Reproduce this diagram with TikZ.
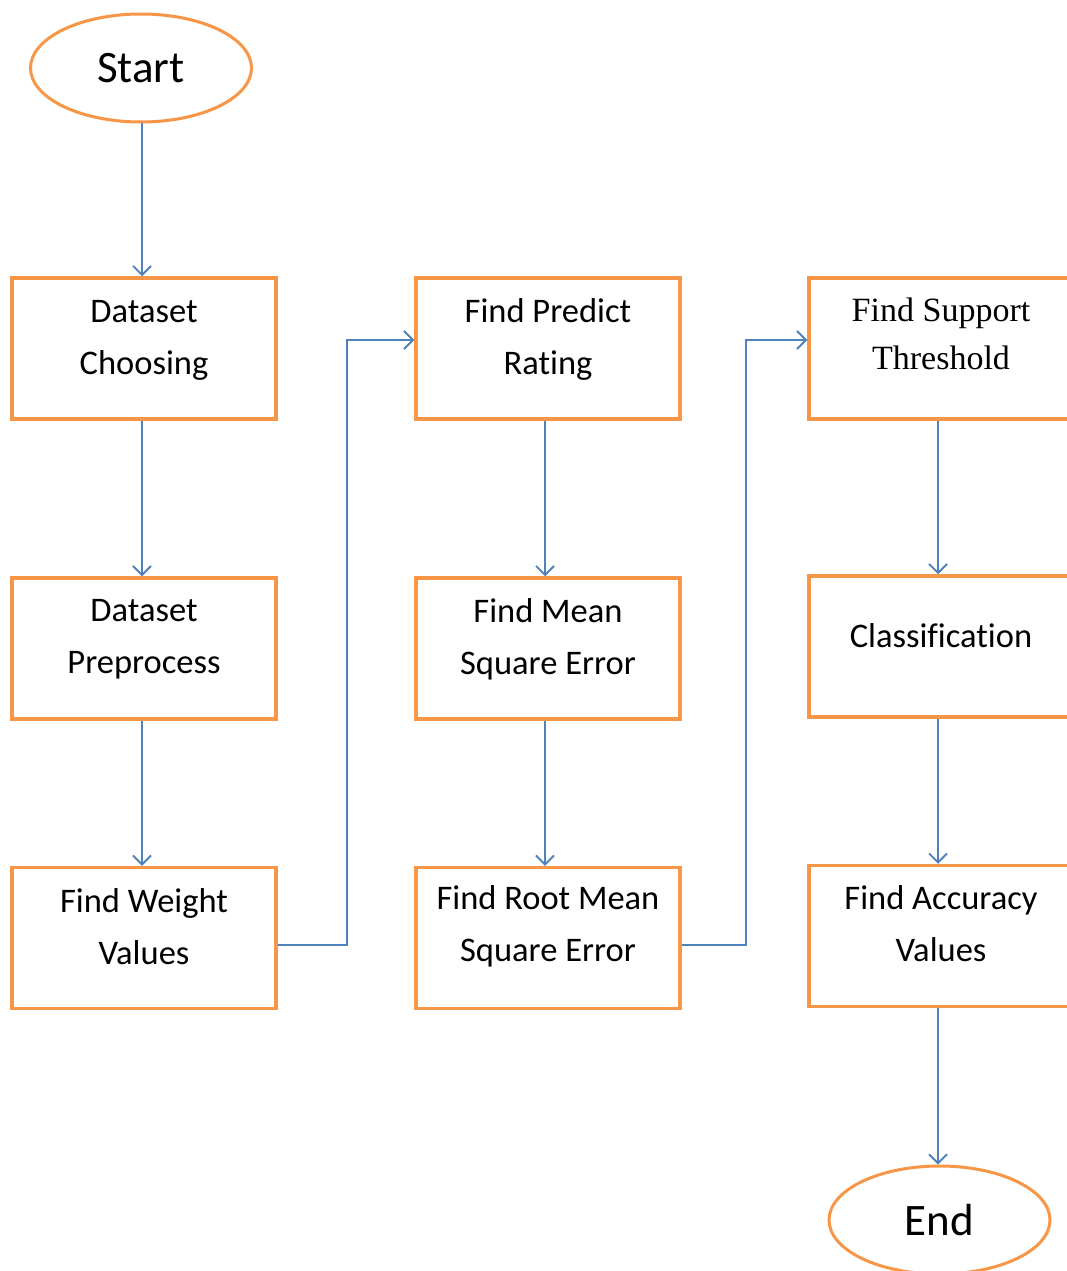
\documentclass[tikz,border=0pt]{standalone}
\usepackage{fontspec}
\setmainfont{Carlito}[Ligatures=NoCommon]
\newfontfamily\serifface{Liberation Serif}
\usetikzlibrary{arrows.meta,shapes.geometric,calc}
\definecolor{boxorange}{RGB}{247,150,70}
\definecolor{linkblue}{RGB}{79,129,189}
\begin{document}
\begin{tikzpicture}[x=1pt,y=-1pt,
  stepbox/.style={draw=boxorange,line width=3.5pt,minimum width=264pt,minimum height=141pt,inner sep=0pt},
  txt/.style={align=center,font=\fontsize{34.5}{52}\selectfont},
  terminal/.style={draw=boxorange,line width=3pt,ellipse,minimum width=221pt,minimum height=108pt,inner sep=0pt,font=\fontsize{45}{50}\selectfont},
  link/.style={draw=linkblue,line width=1.8pt,-{Straight Barb[length=9pt,width=18pt,line width=1.8pt]}}]
\useasboundingbox (0,0) rectangle (1067,1271);
\fill[white] (0,0) rectangle (1067,1271);

% terminals
\node[terminal] (start) at (141,68) {Start};
\node[terminal] (end) at (939.5,1220) {End};

% first column
\node[stepbox] (choose) at (144,348.5) {};
\node[txt] (chooseT) at (144,340) {Dataset\\Choosing};
\node[stepbox] (prep) at (144,648.5) {};
\node[txt] (prepT) at (144,639.5) {Dataset\\Preprocess};
\node[stepbox] (weight) at (144,938) {};
\node[txt] (weightT) at (144,927) {Find Weight\\Values};

% second column
\node[stepbox] (predict) at (548,348.5) {};
\node[txt] (predictT) at (548,339) {Find Predict\\Rating};
\node[stepbox] (mse) at (548,648.5) {};
\node[txt] (mseT) at (548,639) {Find Mean\\Square Error};
\node[stepbox] (rmse) at (548,938) {};
\node[txt] (rmseT) at (548,926) {Find Root Mean\\Square Error};

% third column
\node[stepbox] (support) at (941,348.5) {};
\node[txt,font=\serifface\fontsize{34}{48}\selectfont] (supportT) at (941,334) {Find Support\\Threshold};
\node[stepbox] (classify) at (941,646.5) {};
\node[txt] (classifyT) at (941,636) {Classification};
\node[stepbox] (accuracy) at (941,936) {};
\node[txt] (accuracyT) at (941,924) {Find Accuracy\\Values};

% vertical flow
\draw[link] (start.south -| 142,0) -- (choose.north -| 142,0);
\draw[link] (choose.south -| 142,0) -- (prep.north -| 142,0);
\draw[link] (prep.south -| 142,0) -- (weight.north -| 142,0);
\draw[link] (predict.south -| 545,0) -- (mse.north -| 545,0);
\draw[link] (mse.south -| 545,0) -- (rmse.north -| 545,0);
\draw[link] (support.south -| 938,0) -- (classify.north -| 938,0);
\draw[link] (classify.south -| 938,0) -- (accuracy.north -| 938,0);
\draw[link] (accuracy.south -| 938,0) -- (end.north -| 938,0);

% column changes
\coordinate (turnA) at (347,945);
\coordinate (turnB) at (746,945);
\draw[link] (weight.east |- turnA) -- (turnA) -- (347,340) -- (predict.west |- 0,340);
\draw[link] (rmse.east |- turnB) -- (turnB) -- (746,340) -- (support.west |- 0,340);
\end{tikzpicture}
\end{document}
